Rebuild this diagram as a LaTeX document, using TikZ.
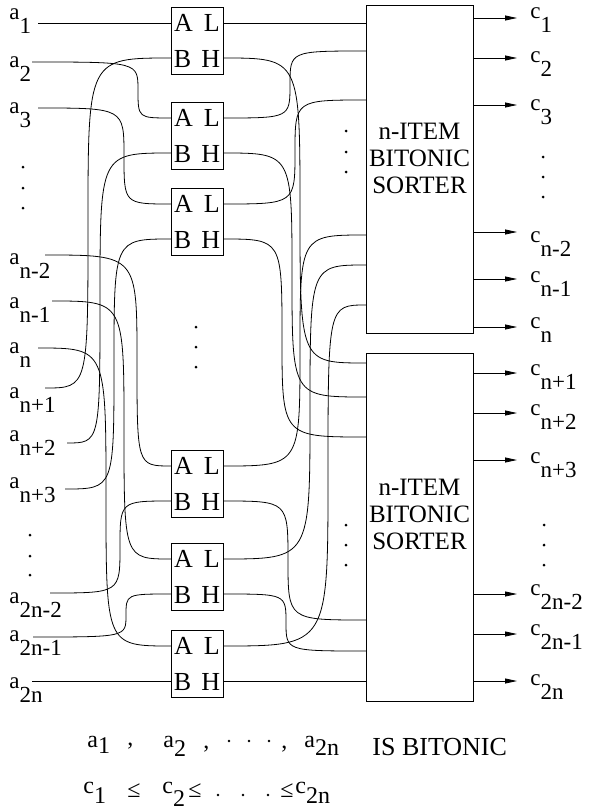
\documentclass[tikz,border=0pt]{standalone}
\usepackage{fontspec}
\setmainfont{Liberation Serif}
\usetikzlibrary{calc, arrows.meta}
\newcommand{\lbl}[3][0.62em]{#2\raisebox{-#1}{#3}}

\begin{document}
\begin{tikzpicture}[
    x=1pt, y=-1pt,
    line width=0.8pt,
    cmpbox/.style={draw, minimum width=52pt, minimum height=67pt, inner sep=0pt, align=center, font=\fontsize{26}{26}\selectfont},
    sorter/.style={draw, minimum width=107pt, inner sep=0pt},
    sorttext/.style={align=center, inner sep=0pt, font=\fontsize{25}{27}\selectfont},
    inlab/.style={anchor=west, inner sep=0pt, font=\fontsize{23}{23}\selectfont},
    outlab/.style={anchor=west, inner xsep=13pt, inner ysep=0pt, font=\fontsize{23}{23}\selectfont},
    outarrow/.style={-{Triangle[length=12pt, width=5pt]}},
    wire/.style={to path={.. controls (\tikztostart-|#1,0) .. ($(\tikztostart-|#1,0)!.5!(\tikztotarget-|#1,0)$) .. controls (\tikztotarget-|#1,0) .. (\tikztotarget)}},
    sumtext/.style={anchor=base west, inner sep=0pt, font=\fontsize{24}{24}\selectfont}
]

    \useasboundingbox (0,0) rectangle (591,811);

    % --- INPUTS a_1 ... a_2n ---
    \foreach \j/\ly/\x/\w/\txt in {1/21/38/23/1, 2/69/32/62/2, 3/115/38/108/3, 4/266/45/255/n-2, 5/310/52/301/n-1, 6/355/38/348/n, 7/400/45/388/n+1, 8/443/67/443/n+2, 9/490/65/489/n+3, 10/605/50/593/2n-2, 11/643/33/637/2n-1, 12/690/32/681/2n} {
        \node[inlab] (a\j) at (9,\ly) {\lbl{a}{\txt}};
        \coordinate (in\j) at (\x,\w);
    }

    % --- COMPARATORS ---
    \foreach \i/\yy in {1/7, 2/102, 3/188, 4/450, 5/543, 6/630} {
        \node[cmpbox] (cmp\i) at (197,\yy+33.5) {A\hspace{11pt}L\\[10pt]B\hspace{10pt}H};
        \coordinate (A\i) at (171,\yy+16);
        \coordinate (B\i) at (171,\yy+51);
        \coordinate (L\i) at (223,\yy+16);
        \coordinate (H\i) at (223,\yy+51);
    }

    % --- SORTERS ---
    \node[sorter, minimum height=328pt] (sortA) at (419.5,169) {};
    \node[sorter, minimum height=348pt] (sortB) at (419.5,527) {};
    \node[sorttext] (txtA) at (419.5,158) {n-ITEM\\BITONIC\\SORTER};
    \node[sorttext] (txtB) at (419.5,514) {n-ITEM\\BITONIC\\SORTER};
    \foreach \j/\y in {1/23, 2/51, 3/100, 4/235, 5/265, 6/305}
        \coordinate (t\j) at (366,\y);
    \foreach \j/\y in {1/363, 2/397, 3/437, 4/620, 5/651, 6/681}
        \coordinate (b\j) at (366,\y);

    % --- WIRES ---
    \draw (in1) -- (A1);
    \foreach \s/\v/\e in {in2/138/A2, in3/124/A3, in4/137/A4, in5/124/A5, in6/106/A6, in7/88/B1, in8/100/B2, in9/114/B3, in10/120/B4, in11/126/B5}
        \draw (\s) to[wire=\v] (\e);
    \draw (in12) -- (B6);

    \draw (L1) -- (t1);
    \foreach \s/\v/\e in {L2/290/t2, L3/295/t3, L4/300/t4, L5/310/t5, L6/328/t6, H1/300/b1, H2/292/b2, H3/282/b3, H4/288/b4, H5/286/b5}
        \draw (\s) to[wire=\v] (\e);
    \draw (H6) -- (b6);

    % --- OUTPUTS c_1 ... c_2n ---
    \foreach \j/\y/\ly/\txt in {1/18/20/1, 2/58/64/2, 3/105/112/3, 4/232/244/n-2, 5/279/284/n-1, 6/327/330/n, 7/373/377/n+1, 8/413/417/n+2, 9/460/465/n+3, 10/594/597/2n-2, 11/634/637/2n-1, 12/681/687/2n} {
        \coordinate (o\j) at (473,\y);
        \node[outlab] (c\j) at (517,\ly) {\lbl{c}{\txt}};
        \draw[outarrow] (o\j) -- (o\j -| c\j.west);
    }

    % --- VERTICAL DOTS ---
    \foreach \x/\y in {23/167, 23/188, 23/208, 30/535, 30/556, 30/575, 196/327, 196/347, 196/367, 346/131, 346/152, 346/172, 346/525, 346/545, 346/565, 543/157, 543/177, 543/197, 544/525, 544/545, 544/565}
        \fill (\x,\y) circle[radius=1.5pt];

    % --- CAPTION ---
    \node[sumtext] (s1) at (87,747) {\lbl[6pt]{a}{1}};
    \node[sumtext] (s2) at (127,745) {,};
    \node[sumtext] (s3) at (163,747) {\lbl[9pt]{a}{2}};
    \node[sumtext] (s4) at (203,748) {,};
    \node[sumtext] (s5) at (281,748) {,};
    \node[sumtext] (s6) at (304,747) {\lbl[8pt]{a}{2n}};
    \node[sumtext, font=\fontsize{26}{26}\selectfont] (s7) at (372,755) {IS BITONIC};
    \node[sumtext] (r1) at (83,793) {\lbl[10pt]{c}{1}};
    \node[sumtext] (r2) at (127,797) {≤};
    \node[sumtext] (r3) at (162,793) {\lbl[13pt]{c}{2}};
    \node[sumtext] (r4) at (188,797) {≤};
    \node[sumtext] (r5) at (280,797) {≤};
    \node[sumtext] (r6) at (295,793) {\lbl[10pt]{c}{2n}};
    \foreach \x/\y in {229/741, 249/741, 269/741, 218/795, 243/795, 268/795}
        \fill (\x,\y) circle[radius=1.3pt];

\end{tikzpicture}
\end{document}
